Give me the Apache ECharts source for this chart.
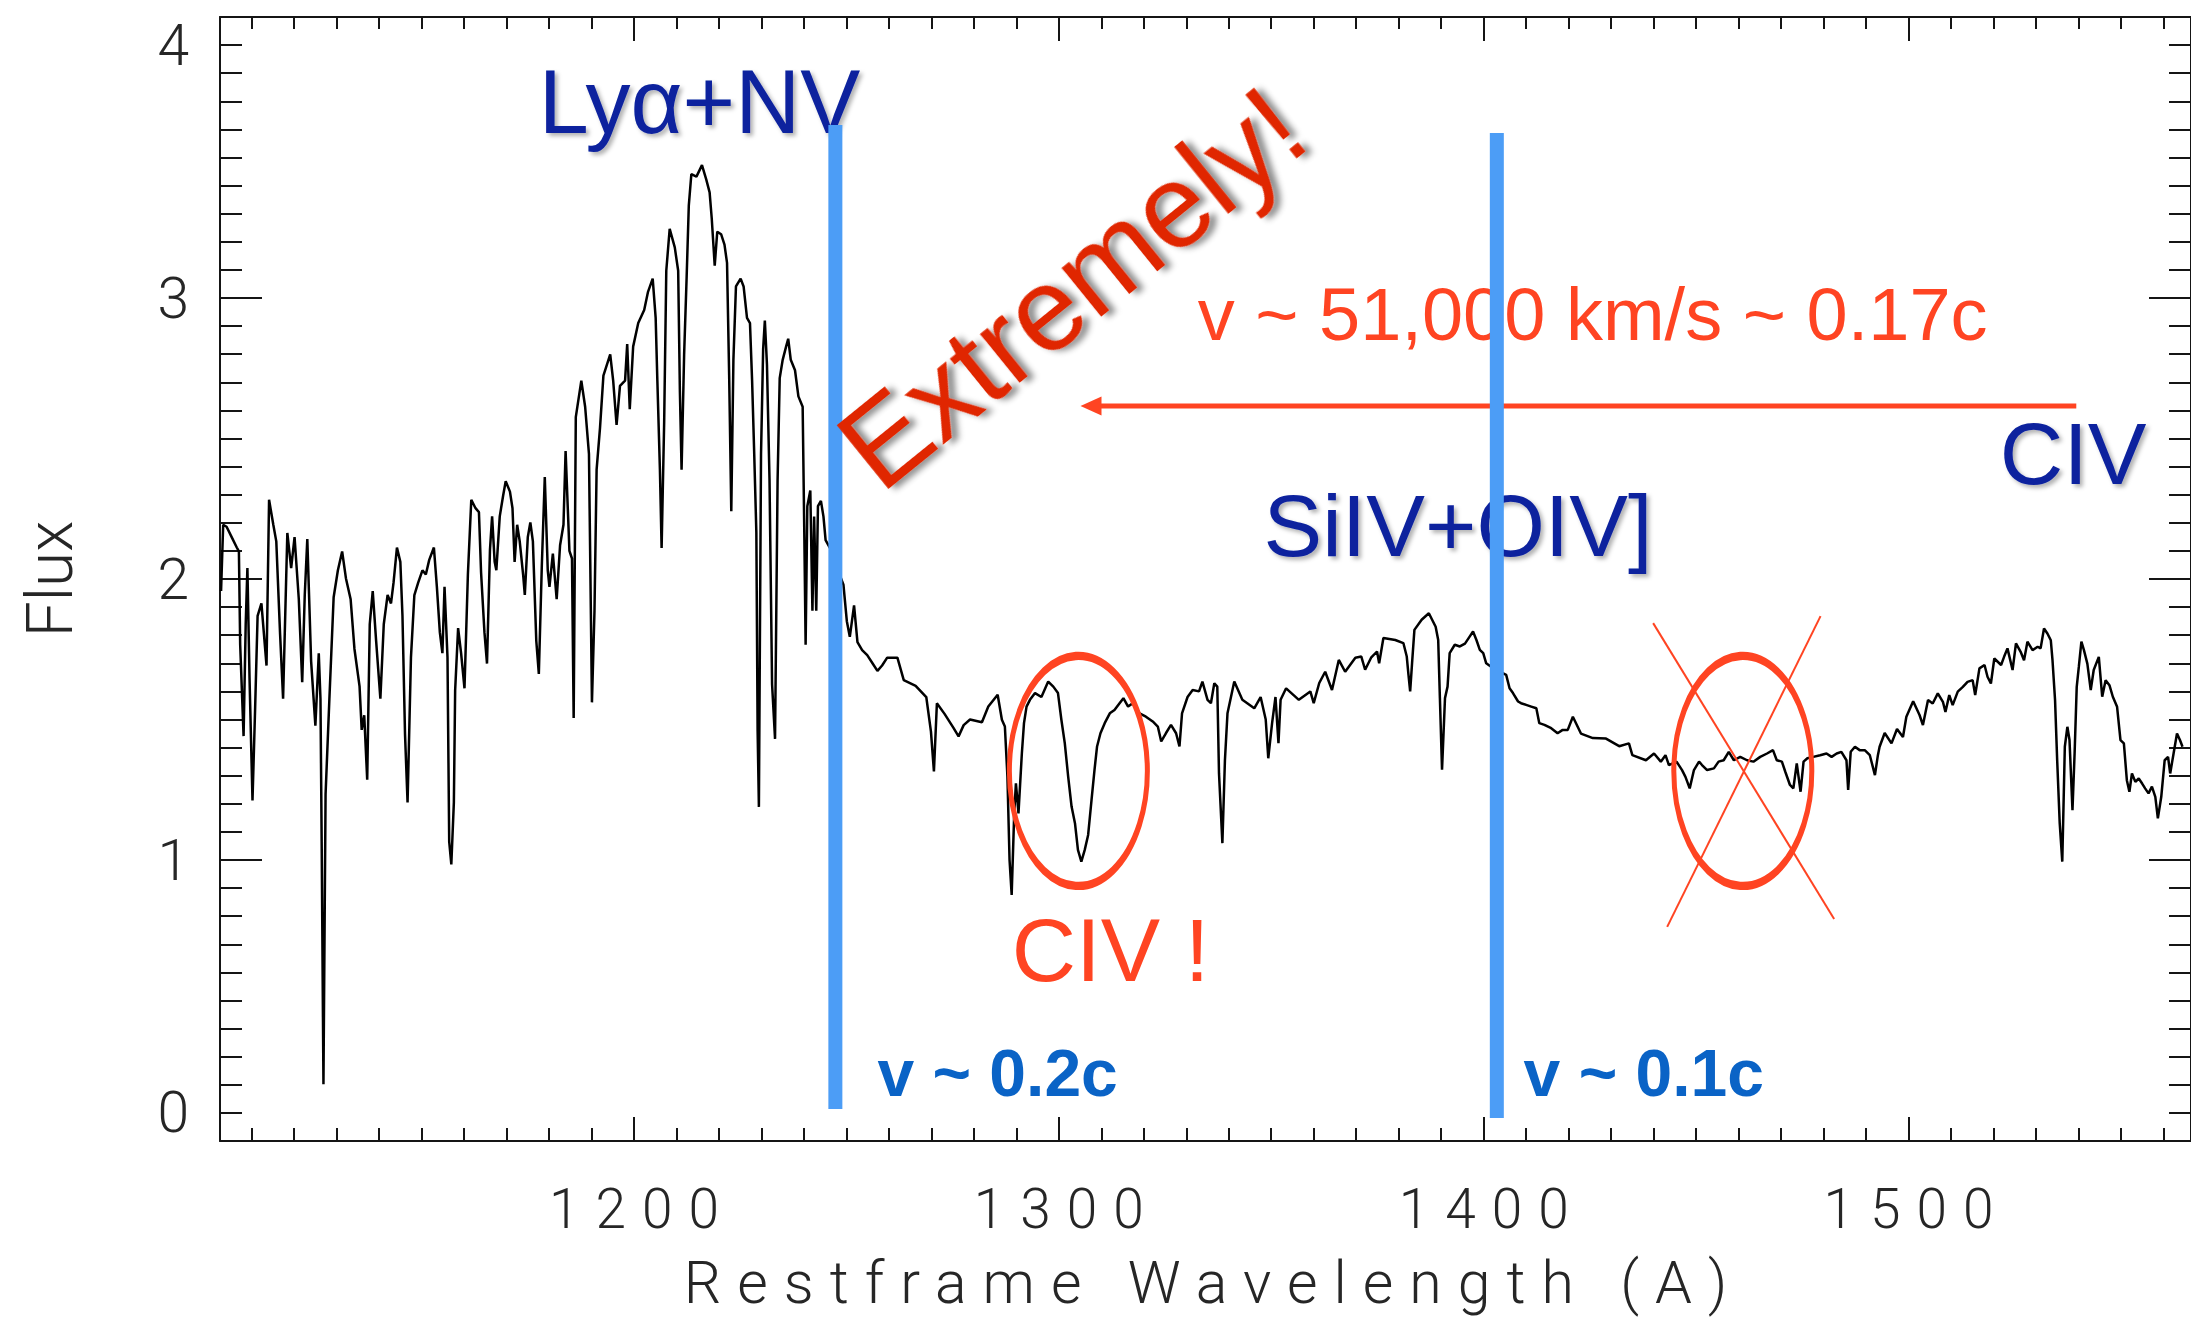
<!DOCTYPE html>
<html><head><meta charset="utf-8">
<script src="https://cdn.jsdelivr.net/npm/echarts@6/dist/echarts.min.js"></script>
<style>
html,body{margin:0;padding:0;background:#fff;overflow:hidden;}
#c{width:2191px;height:1319px;}
#c svg text[style*="Lato"]{letter-spacing:16px;}
</style></head><body><div id="c"></div>
<script>
// Rest-frame wavelength (Angstrom) and flux
const wavelength = [
1102.8,1103.3,1104.1,1105.3,1106.5,1107.0,1107.3,1108.1,1108.6,1109.0,1109.5,1110.2,1110.8,1111.4,1112.3,1113.5,1114.1,1115.1,1115.8,1116.7,
1117.4,1118.4,1119.3,1120.1,1121.1,1121.9,1122.5,1123.1,1124.0,1125.0,1125.8,1126.2,1126.5,1126.9,1127.4,1128.3,1129.3,1130.3,1131.3,1132.2,
1133.3,1134.2,1135.4,1135.9,1136.5,1137.2,1137.8,1138.5,1139.3,1140.3,1141.1,1142.0,1142.8,1143.4,1144.2,1145.0,1145.5,1146.1,1146.7,1147.5,
1148.3,1149.2,1150.2,1151.0,1151.8,1152.9,1153.6,1154.3,1154.9,1155.4,1156.1,1156.5,1157.0,1157.6,1157.9,1158.6,1159.3,1160.1,1160.9,1161.7,
1162.7,1163.5,1164.0,1164.8,1165.4,1166.1,1166.6,1167.2,1167.6,1168.4,1169.2,1169.8,1170.8,1171.4,1171.9,1172.5,1173.1,1173.9,1174.3,1175.0,
1175.6,1176.2,1177.0,1177.6,1178.3,1179.0,1179.7,1180.1,1180.9,1181.8,1182.6,1183.4,1183.9,1184.8,1185.4,1185.8,1186.3,1187.6,1188.5,1189.4,
1190.1,1190.7,1191.2,1192.0,1192.8,1194.4,1195.1,1195.9,1196.7,1197.9,1198.4,1199.0,1199.8,1201.0,1202.4,1203.3,1204.4,1205.1,1205.5,1206.1,
1206.5,1207.1,1207.6,1208.4,1209.6,1210.4,1210.8,1211.2,1211.8,1212.4,1212.9,1213.5,1214.7,1216.0,1217.0,1217.8,1218.3,1219.0,1219.6,1220.5,
1221.3,1221.9,1222.4,1222.9,1223.4,1224.0,1225.1,1225.8,1226.6,1227.3,1227.8,1228.3,1228.8,1229.1,1229.4,1229.9,1230.4,1230.8,1231.3,1231.9,
1232.5,1233.2,1233.8,1234.3,1235.0,1235.8,1236.3,1236.9,1237.9,1238.7,1239.7,1240.1,1240.4,1240.8,1241.5,1242.0,1242.4,1242.9,1243.3,1244.0,
1244.6,1245.1,1246.5,1248.3,1249.3,1250.1,1250.8,1251.8,1252.6,1253.7,1254.9,1256.1,1257.3,1258.4,1259.6,1262.0,1263.5,1266.3,1268.8,1269.9,
1270.6,1271.3,1273.1,1275.2,1276.4,1277.6,1279.1,1281.9,1283.4,1285.6,1286.6,1287.3,1287.9,1288.4,1288.9,1289.5,1289.9,1290.5,1291.3,1291.8,
1292.4,1293.2,1294.4,1295.9,1297.5,1298.7,1299.8,1300.6,1301.4,1302.2,1303.0,1303.8,1304.5,1305.3,1306.1,1306.9,1307.7,1308.4,1309.0,1309.8,
1310.8,1312.0,1313.1,1314.3,1315.2,1316.3,1317.4,1319.0,1320.5,1322.1,1323.3,1324.1,1325.2,1326.4,1327.6,1328.4,1329.0,1330.3,1331.5,1333.0,
1333.8,1335.0,1335.8,1336.6,1337.3,1337.7,1338.5,1339.1,1339.7,1341.3,1343.2,1346.0,1347.5,1348.7,1349.3,1350.2,1351.0,1351.7,1352.2,1353.5,
1356.5,1359.2,1360.0,1361.3,1362.7,1364.3,1365.9,1367.4,1369.8,1371.2,1372.1,1373.5,1374.9,1375.4,1376.4,1379.2,1381.1,1381.9,1382.3,1382.7,
1383.2,1383.7,1385.4,1387.1,1388.7,1389.3,1389.7,1390.2,1390.9,1391.5,1392.0,1393.2,1394.4,1395.6,1396.7,1397.5,1398.3,1399.1,1399.9,1400.6,
1402.5,1405.3,1406.1,1406.9,1408.1,1408.8,1410.0,1411.2,1412.4,1413.1,1414.3,1415.9,1417.4,1418.6,1419.8,1421.0,1422.9,1425.7,1428.8,1431.9,
1434.2,1435.0,1438.2,1440.1,1441.7,1442.8,1443.6,1445.4,1446.7,1447.5,1448.5,1449.5,1450.7,1451.4,1452.6,1454.2,1455.3,1456.5,1457.7,1458.9,
1460.4,1462.0,1463.5,1465.1,1466.7,1468.1,1469.0,1470.2,1471.0,1472.1,1472.9,1473.7,1474.6,1475.3,1476.2,1477.6,1479.2,1480.7,1481.9,1483.1,
1484.2,1485.4,1485.8,1486.4,1487.4,1488.5,1489.7,1490.9,1492.1,1492.8,1493.2,1494.4,1496.0,1497.3,1498.7,1499.5,1501.1,1502.6,1503.4,1504.6,
1505.7,1506.9,1508.1,1508.7,1509.6,1510.4,1511.6,1512.8,1513.9,1515.1,1515.7,1516.7,1517.9,1518.6,1519.4,1520.2,1521.8,1522.5,1523.3,1524.5,
1525.3,1526.4,1527.2,1528.0,1529.2,1530.4,1531.1,1531.9,1532.7,1533.5,1533.9,1534.5,1535.0,1535.6,1536.2,1536.8,1537.4,1537.9,1538.6,1539.1,
1539.6,1540.1,1540.7,1541.3,1542.1,1542.9,1543.6,1544.8,1545.6,1546.4,1547.3,1548.1,1549.1,1549.9,1550.7,1551.4,1552.0,1552.6,1553.4,1554.2,
1555.0,1555.7,1556.5,1557.3,1558.1,1558.7,1559.5,1560.3,1561.1,1561.6,1562.4,1563.2,1563.9,1564.5
];
const flux = [
1.957,2.193,2.186,2.149,2.112,2.098,1.766,1.441,1.839,2.039,1.648,1.212,1.530,1.869,1.913,1.692,2.282,2.193,2.134,1.802,
1.574,2.164,2.039,2.149,1.928,1.633,1.943,2.142,1.707,1.478,1.736,1.574,1.028,0.202,1.234,1.574,1.935,2.031,2.098,2.002,
1.928,1.751,1.618,1.463,1.515,1.286,1.839,1.957,1.780,1.574,1.839,1.943,1.913,1.987,2.112,2.061,1.869,1.448,1.205,1.721,
1.943,1.987,2.031,2.016,2.068,2.112,1.972,1.810,1.736,1.972,1.721,1.065,0.984,1.205,1.603,1.825,1.736,1.611,2.016,2.282,
2.252,2.238,2.024,1.810,1.699,2.105,2.223,2.061,2.031,2.223,2.297,2.348,2.311,2.252,2.061,2.193,2.134,2.016,1.943,2.149,
2.201,2.134,1.780,1.662,2.046,2.363,2.031,1.972,2.090,1.928,2.120,2.193,2.455,2.100,2.073,1.505,2.576,2.706,2.613,2.445,
1.561,1.887,2.389,2.538,2.724,2.799,2.706,2.548,2.687,2.706,2.836,2.604,2.827,2.911,2.957,3.022,3.069,2.929,2.706,2.389,
2.110,2.557,3.097,3.246,3.180,3.097,2.669,2.389,2.799,3.078,3.329,3.441,3.432,3.473,3.422,3.376,3.283,3.115,3.236,3.227,
3.190,3.125,2.724,2.241,2.780,3.041,3.069,3.041,2.929,2.911,2.706,2.445,2.166,1.459,1.189,2.445,2.818,2.920,2.762,2.352,
1.626,1.431,2.352,2.715,2.780,2.827,2.855,2.780,2.743,2.650,2.613,2.148,1.766,2.259,2.315,1.887,2.222,1.887,2.259,2.278,
2.222,2.138,2.100,2.020,1.980,1.850,1.794,1.906,1.775,1.747,1.729,1.701,1.673,1.692,1.720,1.720,1.640,1.620,1.580,1.457,
1.315,1.558,1.520,1.470,1.440,1.480,1.500,1.490,1.546,1.588,1.499,1.475,1.297,1.000,0.876,1.166,1.273,1.166,1.380,1.487,
1.546,1.570,1.594,1.580,1.635,1.617,1.594,1.499,1.416,1.297,1.190,1.131,1.036,0.994,1.036,1.089,1.214,1.321,1.404,1.451,
1.487,1.522,1.534,1.558,1.576,1.546,1.558,1.522,1.510,1.493,1.475,1.422,1.451,1.481,1.451,1.404,1.522,1.580,1.605,1.600,
1.635,1.570,1.558,1.629,1.617,1.309,1.060,1.356,1.522,1.635,1.570,1.540,1.580,1.500,1.362,1.487,1.580,1.416,1.570,1.611,
1.570,1.600,1.558,1.630,1.670,1.605,1.712,1.670,1.720,1.724,1.677,1.720,1.742,1.700,1.790,1.783,1.772,1.724,1.660,1.600,
1.712,1.819,1.855,1.878,1.830,1.783,1.576,1.321,1.576,1.617,1.736,1.766,1.760,1.770,1.795,1.813,1.783,1.748,1.736,1.700,
1.680,1.659,1.611,1.594,1.564,1.558,1.552,1.546,1.540,1.487,1.481,1.469,1.451,1.463,1.463,1.510,1.450,1.434,1.432,1.405,
1.415,1.373,1.355,1.379,1.350,1.373,1.338,1.350,1.320,1.296,1.255,1.320,1.350,1.338,1.320,1.326,1.350,1.355,1.385,1.355,
1.367,1.355,1.350,1.367,1.379,1.391,1.355,1.350,1.314,1.267,1.255,1.344,1.243,1.350,1.362,1.367,1.373,1.379,1.367,1.379,
1.385,1.355,1.249,1.385,1.403,1.391,1.391,1.373,1.302,1.373,1.403,1.452,1.415,1.466,1.438,1.510,1.565,1.516,1.480,1.569,
1.557,1.593,1.563,1.527,1.587,1.551,1.599,1.616,1.634,1.640,1.587,1.682,1.694,1.652,1.628,1.717,1.694,1.723,1.753,1.676,
1.771,1.741,1.711,1.777,1.747,1.759,1.753,1.824,1.806,1.782,1.711,1.569,1.355,1.130,0.994,1.403,1.474,1.427,1.177,1.379,
1.616,1.688,1.777,1.747,1.699,1.605,1.676,1.723,1.581,1.640,1.622,1.581,1.545,1.427,1.415,1.284,1.243,1.308,1.278,1.290,
1.272,1.255,1.237,1.261,1.225,1.148,1.225,1.355,1.367,1.308,1.379,1.450,1.427,1.403
];
const xTickLabels = [1200, 1300, 1400, 1500];
const yTickLabels = [0, 1, 2, 3, 4];
const xRange = [1102.55, 1566.5];
const yRange = [0, 4];

const chart = echarts.init(document.getElementById('c'), null, {renderer: 'svg'});
const axisColor = '#151515';
const tickFontX = {fontFamily: 'Roboto, Lato', fontWeight: 300, fontSize: 55, color: '#262626', padding: [0, 0, 0, 16]};
const tickFontY = {fontFamily: 'Roboto', fontWeight: 300, fontSize: 57, color: '#262626'};

function xAxisCfg(pos, showLabel, majorLen, minorLen) {
  return {
    type: 'value', position: pos, min: xRange[0], max: xRange[1],
    axisLine: {show: true, onZero: false, lineStyle: {color: axisColor, width: 2}},
    axisTick: {show: true, inside: true, length: majorLen, lineStyle: {color: axisColor, width: 2}},
    minorTick: {show: true, splitNumber: 10, length: minorLen, lineStyle: {color: axisColor, width: 2}},
    splitLine: {show: false}, minorSplitLine: {show: false},
    axisLabel: Object.assign({
      show: showLabel, showMinLabel: false, showMaxLabel: false, margin: 40,
      formatter: v => xTickLabels.includes(Math.round(v)) && Math.abs(v - Math.round(v)) < 1e-6 ? String(Math.round(v)) : ''
    }, tickFontX)
  };
}
function yAxisCfg(pos, showLabel) {
  return {
    type: 'value', position: pos, min: yRange[0], max: yRange[1], interval: 1,
    axisLine: {show: true, onZero: false, lineStyle: {color: axisColor, width: 2}},
    axisTick: {show: true, inside: true, length: 42, lineStyle: {color: axisColor, width: 2}},
    minorTick: {show: true, splitNumber: 10, length: 22, lineStyle: {color: axisColor, width: 2}},
    splitLine: {show: false}, minorSplitLine: {show: false},
    axisLabel: Object.assign({
      show: showLabel, margin: 31,
      verticalAlignMinLabel: 'bottom', verticalAlignMaxLabel: 'top',
      formatter: v => yTickLabels.includes(v) ? String(v) : ''
    }, tickFontY)
  };
}

const xb = xAxisCfg('bottom', true, 24, 13);
xb.name = 'Restframe Wavelength (A)';
xb.nameLocation = 'middle';
xb.nameGap = 112;
xb.nameTextStyle = {fontFamily: 'Roboto, Lato', fontWeight: 300, fontSize: 59, color: '#262626', padding: [0, 0, 0, 16]};
const yl = yAxisCfg('left', true);
yl.name = 'Flux';
yl.nameLocation = 'middle';
yl.nameGap = 138;
yl.nameTextStyle = {fontFamily: 'Roboto', fontWeight: 300, fontSize: 64, color: '#262626'};

chart.setOption({
  animation: false,
  backgroundColor: '#ffffff',
  grid: {left: 220, top: 17, width: 1979, height: 1124, containLabel: false},
  xAxis: [xb, xAxisCfg('top', false, 24, 12)],
  yAxis: [yl, yAxisCfg('right', false)],
  series: [{
    type: 'line', xAxisIndex: 0, yAxisIndex: 0,
    data: wavelength.map((w, i) => [w, flux[i]]),
    showSymbol: false, symbol: 'none', smooth: false,
    lineStyle: {color: '#000', width: 2.5}, z: 2
  }]
});

// annotations positioned in data coordinates
const P = (x, y) => chart.convertToPixel({xAxisIndex: 0, yAxisIndex: 0}, [x, y]);
const darkBlue = '#0b229e', orange = '#ff4422', red = '#e02600', vBlue = '#0a63c6', lineBlue = '#4c9df6';
const shadow = {textShadowColor: 'rgba(0,0,0,0.3)', textShadowBlur: 4, textShadowOffsetX: 3, textShadowOffsetY: 3};

function txt(x, y, text, color, size, opt) {
  const p = P(x, y);
  opt = opt || {};
  return {
    type: 'text', x: p[0], y: p[1], rotation: opt.rotation || 0, z: opt.z || 5,
    style: Object.assign({
      text: text, fill: color, fontSize: size, fontFamily: 'Liberation Sans, Arial, sans-serif',
      fontWeight: opt.bold ? 'bold' : 'normal',
      align: opt.align || 'left', textAlign: opt.align || 'left',
      verticalAlign: 'middle', textVerticalAlign: 'middle'
    }, opt.noShadow ? {} : shadow)
  };
}
function seg(a, b, color, w, z) {
  const p1 = P(a[0], a[1]), p2 = P(b[0], b[1]);
  return {type: 'line', z: z, shape: {x1: p1[0], y1: p1[1], x2: p2[0], y2: p2[1]}, style: {stroke: color, lineWidth: w}};
}
function ell(x, y, rx, ry) {
  const p = P(x, y);
  return {type: 'circle', x: p[0], y: p[1], scaleY: ry / rx, z: 6,
    shape: {cx: 0, cy: 0, r: rx}, style: {fill: 'none', stroke: orange, lineWidth: 5, strokeNoScale: true}};
}
const arrowTip = P(1305.1, 2.616), arrowTail = P(1539.5, 2.616);
const extremely = txt(1303.0, 3.036, 'Extremely!', red, 118, {align: 'center', rotation: 39 * Math.PI / 180, z: 12, noShadow: true});
Object.assign(extremely.style, {textShadowColor: 'rgba(0,0,0,0.45)', textShadowBlur: 6, textShadowOffsetX: 5, textShadowOffsetY: 5});
const elements = [
  txt(1177.6, 3.698, 'Lyα+NV', darkBlue, 90),
  txt(1348.2, 2.189, 'SiIV+OIV]', darkBlue, 88),
  txt(1521.5, 2.445, 'CIV', darkBlue, 88),
  txt(1332.7, 2.943, 'v ~ 51,000 km/s ~ 0.17c', orange, 74, {noShadow: true}),
  txt(1288.9, 0.680, 'CIV !', orange, 89, {noShadow: true}),
  txt(1257.3, 0.242, 'v ~ 0.2c', vBlue, 66, {bold: true, noShadow: true}),
  txt(1409.4, 0.242, 'v ~ 0.1c', vBlue, 66, {bold: true, noShadow: true}),
  {type: 'line', z: 6, shape: {x1: arrowTip[0] + 18, y1: arrowTip[1], x2: arrowTail[0], y2: arrowTail[1]}, style: {stroke: orange, lineWidth: 5}},
  {type: 'polygon', z: 6, shape: {points: [[arrowTip[0], arrowTip[1]], [arrowTip[0] + 21, arrowTip[1] - 9.5], [arrowTip[0] + 21, arrowTip[1] + 9.5]]}, style: {fill: orange}},
  ell(1304.6, 1.317, 69, 115),
  ell(1461.0, 1.317, 69, 115),
  seg([1439.9, 1.843], [1482.5, 0.790], orange, 2, 6),
  seg([1479.3, 1.868], [1443.2, 0.762], orange, 2, 6),
  seg([1247.4, 3.616], [1247.4, 0.114], lineBlue, 14, 10),
  seg([1403.1, 3.587], [1403.1, 0.082], lineBlue, 14, 10),
  extremely
];
chart.setOption({graphic: {elements: elements}});
</script></body></html>
